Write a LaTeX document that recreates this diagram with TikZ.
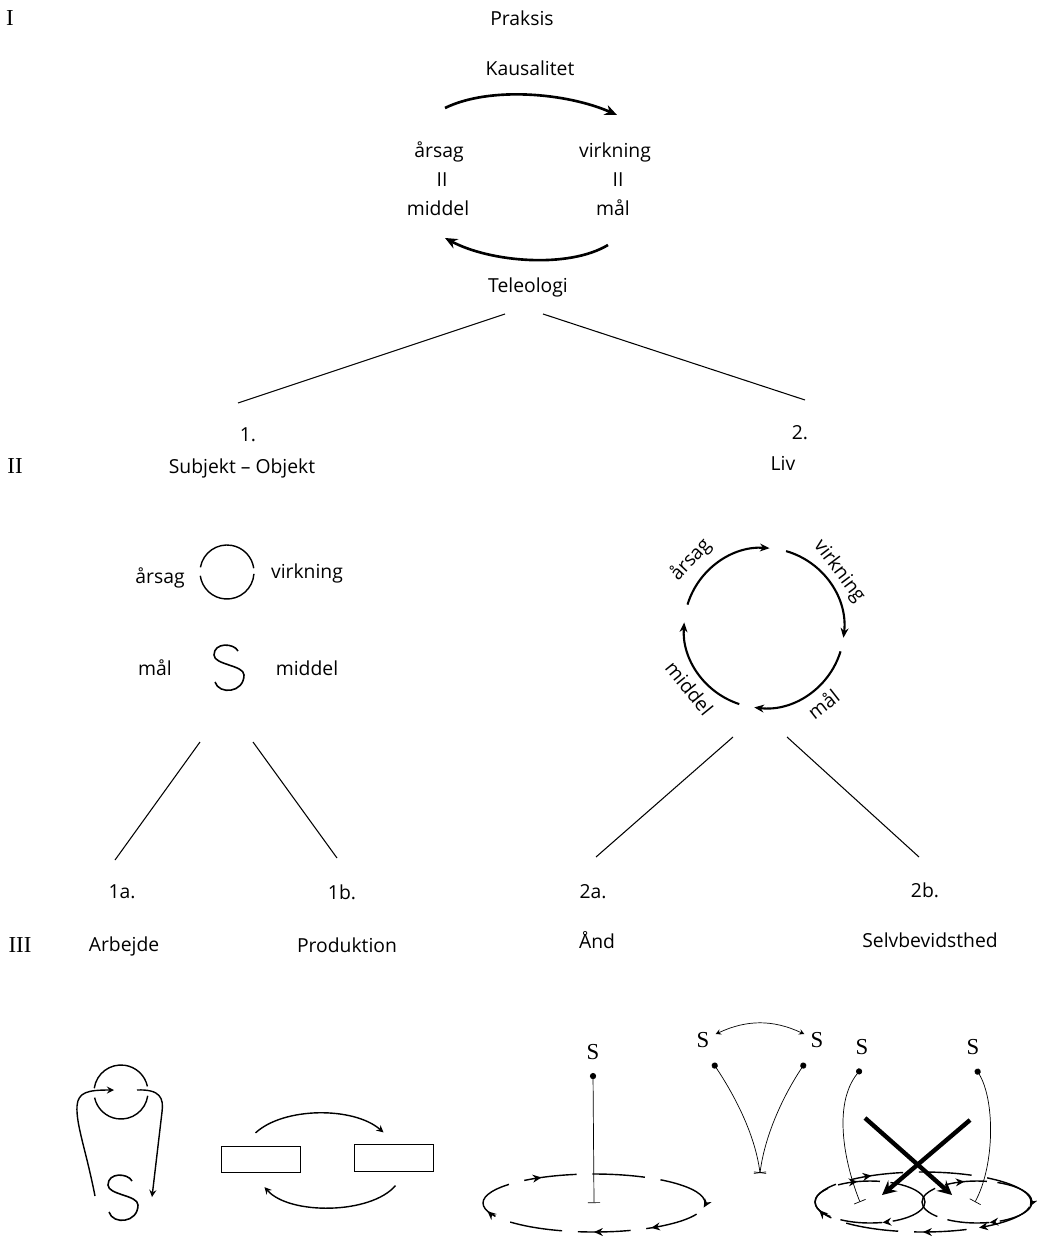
\documentclass[tikz,border=0pt]{standalone}
\usepackage{fontspec}
\setmainfont{Open Sans}
\newfontfamily\romfont{Liberation Serif}
\usetikzlibrary{arrows.meta, decorations.markings}

\begin{document}
\begin{tikzpicture}[>=stealth, x=0.02cm, y=0.02cm,
  lbl/.style={font=\fontsize{11}{13}\selectfont},
  rom/.style={font=\romfont\fontsize{13}{13}\selectfont},
  ess/.style={font=\romfont\fontsize{13}{13}\selectfont},
  ln/.style={semithick},
  cyc/.style={-{Stealth[length=7pt, width=6pt]}, line width=1.5pt},
  liv/.style={-{Stealth[length=5.5pt, width=4.5pt]}, very thick},
  dotline/.style={{Circle[length=3.5pt]}-{Bar[width=7pt]}, thin},
  box/.style={draw, thin, minimum width=1.58cm, minimum height=0.53cm, inner sep=0pt},
  ring/.style={thick, dash pattern=on 30pt off 9pt, postaction={decorate},
    decoration={markings,
      mark=at position 0.36 with {\arrowreversed{Stealth[length=5pt, width=4.5pt]}},
      mark=at position 0.52 with {\arrowreversed{Stealth[length=5pt, width=4.5pt]}},
      mark=at position 0.75 with {\arrowreversed{Stealth[length=5pt, width=4.5pt]}},
      mark=at position 0.87 with {\arrowreversed{Stealth[length=5pt, width=4.5pt]}},
      mark=at position 0.99 with {\arrowreversed{Stealth[length=5pt, width=4.5pt]}}}},
  ringb/.style={thick, dash pattern=on 24pt off 6pt, postaction={decorate},
    decoration={markings,
      mark=at position 0.3 with {\arrowreversed{Stealth[length=5pt, width=4.5pt]}},
      mark=at position 0.8 with {\arrowreversed{Stealth[length=5pt, width=4.5pt]}}}},
  bigs/.pic={\draw[line width=0.9pt](9,16) .. controls (5,24) and (-15,25) .. (-15,12)
    .. controls (-15,2) and (15,2) .. (15,-8) .. controls (15,-26) and (-10,-28) .. (-14,-15);}]

\useasboundingbox (0,0) rectangle (1036,-1239);

\node(rI) at (10,-18)[rom]{I};
\node(P) at (522,-18)[lbl]{Praksis};
\node(K) at (530,-68)[lbl]{Kausalitet};
\node(A1) at (439,-152)[lbl]{årsag};
\node(A2) at (442,-180)[lbl]{II};
\node(A3) at (438,-208)[lbl]{middel};
\node(V1) at (615,-152)[lbl]{virkning};
\node(V2) at (618,-180)[lbl]{II};
\node(V3) at (613,-208)[lbl]{mål};
\node(T) at (528,-287)[lbl]{Teleologi};
\draw[cyc]([shift={(6,44)}]A1.center) .. controls +(45,22) and +(-50,22) .. ([shift={(2,37)}]V1.center);
\draw[cyc]([shift={(-5,-37)}]V3.center) .. controls +(-40,-24) and +(45,-24) .. ([shift={(7,-30)}]A3.center);

\node(N1) at (248,-435)[lbl]{1.};
\node(N2) at (800,-433)[lbl]{2.};
\draw[ln]([shift={(-23,-27)}]T.center)--([shift={(-10,32)}]N1.center);
\draw[ln]([shift={(15,-27)}]T.center)--([shift={(5,33)}]N2.center);

\node(rII) at (15,-466)[rom]{II};
\node(SO) at (242,-468)[lbl]{Subjekt – Objekt};
\node(L) at (783,-463)[lbl]{Liv};

\node(a) at (160,-578)[lbl]{årsag};
\node(v) at (307,-573)[lbl]{virkning};
\coordinate(O) at (227,-572);
\draw[thick]([shift={(170:27)}]O) arc[start angle=170, end angle=8, radius=27];
\draw[thick]([shift={(-4:27)}]O) arc[start angle=-4, end angle=-172, radius=27];
\node(m) at (155,-668)[lbl]{mål};
\node(md) at (307,-668)[lbl]{middel};
\coordinate(S1) at (229,-667);
\pic at (S1) {bigs};

\node(N1a) at (122,-892)[lbl]{1a.};
\node(N1b) at (342,-892)[lbl]{1b.};
\draw[ln]([shift={(-29,-75)}]S1)--([shift={(-7,32)}]N1a.center);
\draw[ln]([shift={(24,-75)}]S1)--([shift={(-5,34)}]N1b.center);

\coordinate(C) at (764,-628);
\draw[liv]([shift={(163:80)}]C) arc[start angle=163, end angle=86, radius=80];
\draw[liv]([shift={(74:80)}]C) arc[start angle=74, end angle=-7, radius=80];
\draw[liv]([shift={(-17:80)}]C) arc[start angle=-17, end angle=-97, radius=80];
\draw[liv]([shift={(-108:80)}]C) arc[start angle=-108, end angle=-184, radius=80];
\node(la) at ([shift={(137:100)}]C)[lbl, rotate=47]{årsag};
\node(lv) at ([shift={(37:94)}]C)[lbl, rotate=-53]{virkning};
\node(lm) at ([shift={(-52:96)}]C)[lbl, rotate=38]{mål};
\node(lmd) at ([shift={(-141:96)}]C)[lbl, rotate=-51]{middel};

\node(N2a) at (593,-892)[lbl]{2a.};
\node(N2b) at (925,-890)[lbl]{2b.};
\draw[ln]([shift={(-31,-109)}]C)--([shift={(3,35)}]N2a.center);
\draw[ln]([shift={(23,-109)}]C)--([shift={(-6,33)}]N2b.center);

\node(rIII) at (20,-945)[rom]{III};
\node(Ar) at (124,-946)[lbl]{Arbejde};
\node(Pr) at (347,-945)[lbl]{Produktion};
\node(An) at (597,-940)[lbl]{Ånd};
\node(Sb) at (930,-940)[lbl]{Selvbevidsthed};

% Arbejde
\coordinate(O2) at (121,-1092);
\draw[thick]([shift={(172:27)}]O2) arc[start angle=172, end angle=12, radius=27];
\draw[thick]([shift={(-8:27)}]O2) arc[start angle=-8, end angle=-168, radius=27];
\pic at (123,-1197) {bigs};
\draw[->, thick](95,-1196) .. controls (86,-1150) and (76,-1125) .. (77,-1106) .. controls (78,-1092) and (88,-1090) .. (114,-1090);
\draw[->, thick](137,-1090) .. controls (160,-1089) and (164,-1098) .. (162,-1112) -- (152,-1197);

% Produktion
\node(R1) at (260.5,-1159.5)[box]{};
\node(R2) at (393.5,-1158)[box]{};
\draw[->, thick]([shift={(-5,13)}]R1.north) .. controls +(28,26) and +(-30,26) .. ([shift={(-10,12)}]R2.north);
\draw[->, thick]([shift={(2,-14)}]R2.south) .. controls +(-25,-29) and +(25,-28) .. ([shift={(4,-14)}]R1.south);

% Aand
\node(sA) at (593,-1052)[ess]{S};
\coordinate(E1) at (594,-1203);
\draw[dotline]([shift={(0,-21)}]sA.center)--(E1);
\draw[ring](E1) ellipse[x radius=111, y radius=29];

\node(s1) at (703,-1040)[ess]{S};
\node(s2) at (817,-1040)[ess]{S};
\draw[<->, thin](s1) to[bend left=25] (s2);
\coordinate(M) at (760,-1173);
\draw[dotline]([shift={(10,-23)}]s1.center) .. controls +(20,-30) and +(-5,40) .. (M);
\draw[dotline]([shift={(-12,-23)}]s2.center) .. controls +(-20,-30) and +(5,40) .. (M);

% Selvbevidsthed
\node(s3) at (862,-1047)[ess]{S};
\node(s4) at (973,-1047)[ess]{S};
\coordinate(F1) at (860,-1202);
\coordinate(F2) at (975,-1202);
\draw[dotline]([shift={(-1,-22)}]s3.center) .. controls +(-29,-36) and +(-15,37) .. (F1);
\draw[dotline]([shift={(3,-22)}]s4.center) .. controls +(19,-31) and +(20,37) .. (F2);
\coordinate(E2) at (923,-1202);
\draw[ring](E2) ellipse[x radius=108, y radius=30];
\draw[ringb]([shift={(-53,0)}]E2) ellipse[x radius=55, y radius=21];
\draw[ringb]([shift={(54,0)}]E2) ellipse[x radius=55, y radius=21];
\draw[->, line width=2.5pt](865,-1118)--(952,-1195);
\draw[->, line width=2.5pt](970,-1120)--(882,-1195);

\end{tikzpicture}
\end{document}
